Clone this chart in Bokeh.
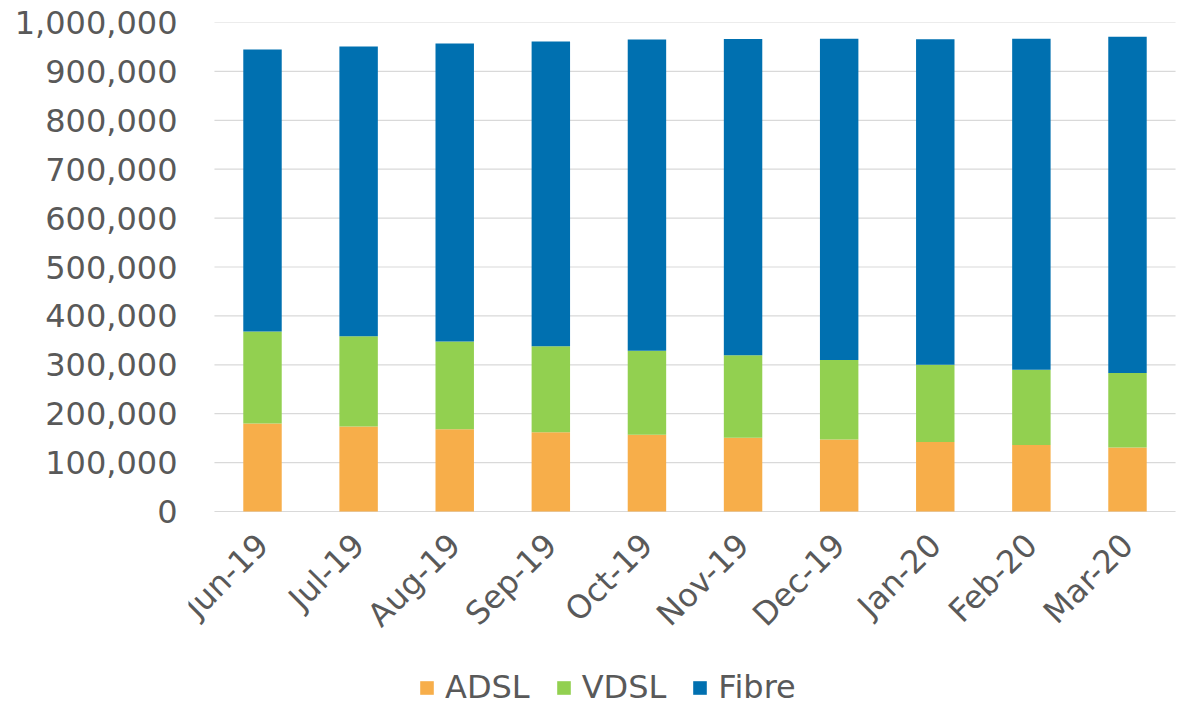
import math
from bokeh.plotting import figure
from bokeh.models import (ColumnDataSource, FactorRange, Range1d, FixedTicker,
                          NumeralTickFormatter, Legend, LegendItem)
from bokeh.embed import file_html
from bokeh.resources import INLINE

months = ["Jun-19", "Jul-19", "Aug-19", "Sep-19", "Oct-19",
          "Nov-19", "Dec-19", "Jan-20", "Feb-20", "Mar-20"]
adsl = [180000, 174000, 168000, 162000, 157000, 151000, 147000, 142000, 136000, 131000]
vdsl = [188000, 184500, 179500, 176000, 171500, 168500, 163000, 158000, 154000, 152000]
fibre = [577000, 592500, 609500, 623000, 636500, 647000, 657000, 666000, 677000, 688000]
series = ["ADSL", "VDSL", "Fibre"]
colors = ["#F7AE4A", "#92D050", "#0070B0"]
y_ticks = [0, 100000, 200000, 300000, 400000, 500000, 600000, 700000, 800000, 900000, 1000000]

FONT = "DejaVu Sans"
TXT = "#595959"
GRID = "#D9D9D9"

# layout: value axis spans 489 px (0 .. 1,000,000); frame extends below it
# so that the rotated month labels and the legend sit inside the frame
AXIS_PX = 489
FRAME_PX = 688
Y_MAX = 1000000
Y_MIN = -Y_MAX * (FRAME_PX - AXIS_PX) / AXIS_PX
CAT_PX = 96.1
PAD = 0.27  # extra room (in category units) so the first label is not clipped

source = ColumnDataSource(dict(month=months, ADSL=adsl, VDSL=vdsl, Fibre=fibre))

x_range = FactorRange(*months, range_padding=PAD, range_padding_units="absolute")
p = figure(x_range=x_range, y_range=Range1d(Y_MIN, Y_MAX),
           frame_width=int(round(CAT_PX * (len(months) + 2 * PAD))),
           frame_height=FRAME_PX, output_backend="svg",
           toolbar_location=None,
           min_border_left=188, min_border_right=0, min_border_top=22,
           min_border_bottom=0)
p.outline_line_color = None

# horizontal gridlines limited to the category span
p.xgrid.grid_line_color = None
p.ygrid.grid_line_color = None
p.segment(x0=[0] * len(y_ticks), x1=[len(months)] * len(y_ticks),
          y0=y_ticks, y1=y_ticks, line_color=GRID, line_width=1.2)

rs = p.vbar_stack(series, x="month", width=0.4, color=colors, source=source,
                  line_color=None)

p.yaxis.ticker = FixedTicker(ticks=y_ticks)
p.yaxis.formatter = NumeralTickFormatter(format="0,0")
p.yaxis.axis_line_color = None
p.yaxis.major_tick_line_color = None
p.yaxis.minor_tick_line_color = None
p.yaxis.major_label_standoff = 5
p.yaxis.major_label_text_font = FONT
p.yaxis.major_label_text_font_size = "32px"
p.yaxis.major_label_text_color = TXT

p.xaxis.fixed_location = 0
p.xaxis.axis_line_color = None
p.xaxis.major_tick_line_color = None
p.xaxis.minor_tick_line_color = None
p.xaxis.major_label_orientation = math.pi / 4
p.xaxis.major_label_standoff = 22
p.xaxis.major_label_text_font = FONT
p.xaxis.major_label_text_font_size = "32px"
p.xaxis.major_label_text_color = TXT

legend = Legend(items=[LegendItem(label=s, renderers=[r]) for s, r in zip(series, rs)],
                orientation="horizontal", location=(230, 4),
                label_text_font=FONT, label_text_font_size="32px",
                label_text_color=TXT, glyph_width=17, glyph_height=17,
                spacing=25, label_standoff=10, border_line_color=None,
                background_fill_alpha=0, padding=0, margin=0)
p.add_layout(legend, "center")

open("out.html", "w").write(file_html(p, INLINE))
